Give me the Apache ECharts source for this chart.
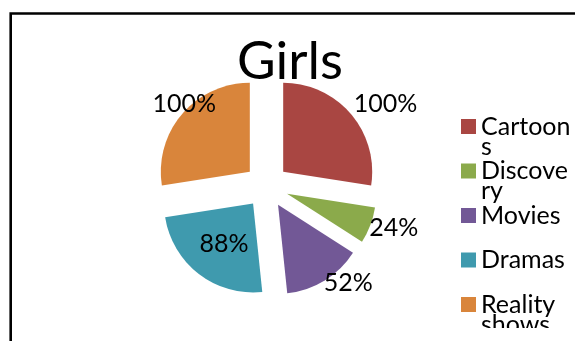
<!DOCTYPE html>
<html>
<head>
<meta charset="utf-8">
<script src="https://cdn.jsdelivr.net/npm/echarts@6/dist/echarts.min.js"></script>
<style>
html,body{margin:0;padding:0;background:#fff;}
#c{width:575px;height:342px;}
</style>
</head>
<body>
<div id="c"></div>
<script>
// ---- data ----
const title = 'Girls';
const categories = ['Cartoons', 'Discovery', 'Movies', 'Dramas', 'Reality shows'];
const values = [100, 24, 52, 88, 100];
const colors = ['#A94642', '#8BAA4B', '#725896', '#3F9AAE', '#D9853B'];

// ---- styling / layout ----
const FONT = 'Lato';
const labelPositions = ['outside', 'outside', 'outside', 'inside', 'outside'];
const labelShifts = [[1, -10], [-3, 3], [-3, 2], [0, 3], [36, -10]];

const chart = echarts.init(document.getElementById('c'), null, { renderer: 'canvas' });

const pieData = categories.map((name, i) => ({
  name: name,
  value: values[i],
  selected: true,
  itemStyle: { color: colors[i] },
  label: { position: labelPositions[i] }
}));

// legend: one legend per entry so that rows are evenly spaced like the reference
const LEG_FONT = 25, LEG_LH = 20, LEG_W = 91, ICON = 15;
const measureCtx = document.createElement('canvas').getContext('2d');
measureCtx.font = LEG_FONT + 'px ' + FONT;
const rowCenter0 = 124, rowStep = 44.5;
const legends = categories.map((name, i) => {
  const wraps = measureCtx.measureText(name).width > LEG_W;
  // wrapped entries get an empty first line so the first text line sits beside the icon
  const extraTop = wraps ? (1.5 * LEG_LH - ICON / 2) : Math.max(0, LEG_LH / 2 - ICON / 2);
  return {
    data: [name],
    orient: 'vertical',
    left: 461,
    top: rowCenter0 + i * rowStep - ICON / 2 - extraTop,
    padding: 0,
    itemWidth: ICON,
    itemHeight: ICON,
    icon: 'rect',
    selectedMode: false,
    formatter: wraps ? (n => '\n' + n) : (n => n),
    textStyle: {
      fontFamily: FONT,
      fontSize: LEG_FONT,
      color: '#000',
      width: LEG_W,
      overflow: 'break',
      lineHeight: LEG_LH
    }
  };
});

chart.setOption({
  animation: false,
  backgroundColor: '#fff',
  title: {
    text: title,
    left: 290,
    top: 35,
    textAlign: 'center',
    padding: 0,
    textStyle: { fontFamily: FONT, fontSize: 53, fontWeight: 'normal', color: '#000' }
  },
  legend: legends,
  graphic: [{
    type: 'polyline',
    shape: { points: [[10.7, 341], [10.7, 13.5], [600, 13.5]] },
    style: { stroke: '#000', lineWidth: 2.6, fill: null },
    silent: true
  }, {
    // legend box clips its last wrapped line, as in the reference
    type: 'rect',
    shape: { x: 455, y: 328, width: 130, height: 20 },
    style: { fill: '#fff' },
    z: 100,
    silent: true
  }],
  series: [{
    type: 'pie',
    center: [266.5, 186],
    radius: [0, 89],
    startAngle: 90,
    clockwise: true,
    selectedMode: 'multiple',
    selectedOffset: 22,
    avoidLabelOverlap: false,
    itemStyle: { borderWidth: 0 },
    select: { itemStyle: { borderWidth: 0 } },
    emphasis: { scale: false },
    label: {
      show: true,
      formatter: '{c}%',
      fontFamily: FONT,
      fontSize: 25,
      color: '#000',
      distanceToLabelLine: 2
    },
    labelLine: { show: false, length: 0, length2: 0 },
    labelLayout: p => ({ dx: labelShifts[p.dataIndex][0], dy: labelShifts[p.dataIndex][1] }),
    data: pieData
  }]
});
</script>
</body>
</html>
